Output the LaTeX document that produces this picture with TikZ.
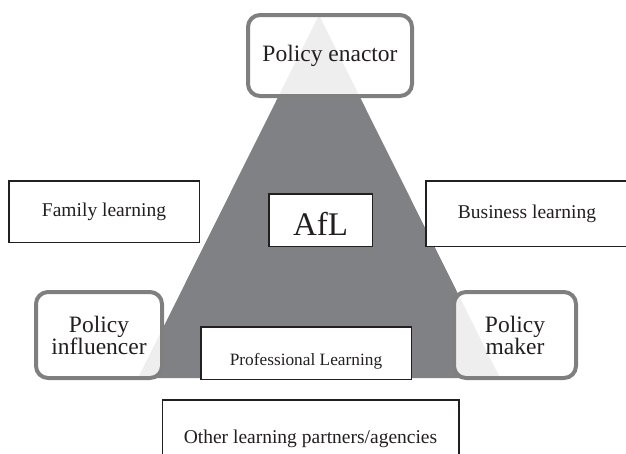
\documentclass[tikz,border=0pt]{standalone}
\usepackage{fontspec}
\setmainfont{Liberation Serif}
\definecolor{tri}{HTML}{808184}
\definecolor{rim}{HTML}{7F7F7F}
\definecolor{ink}{HTML}{231F20}

\begin{document}
\begin{tikzpicture}[
    x=1pt,y=-1pt,
    role/.style={rectangle,rounded corners=12pt,draw=rim,line width=4pt,fill=white,fill opacity=0.87,text opacity=1,text=ink,inner sep=0pt,align=center,font=\fontsize{23.5}{22}\selectfont},
    area/.style={rectangle,draw=ink,line width=1.5pt,fill=white,text=ink,inner sep=0pt,font=\fontsize{19.5}{22}\selectfont},
]
    \useasboundingbox (0,0) rectangle (626,453);
    \coordinate (top) at (319,15);
    \coordinate (left) at (138,378);
    \coordinate (right) at (500,378);
    \fill[tri] (top) -- (right) -- (left) -- cycle;

    \node[area,minimum width=190.5pt,minimum height=61.5pt] (family) at (104,211.5) {Family learning};
    \node[area,minimum width=202pt,minimum height=65.5pt] (business) at (527,213.5) {Business learning};
    \node[area,minimum width=103.5pt,minimum height=52.5pt,text height=30pt,text depth=0pt,font=\fontsize{33}{36}\selectfont] (afl) at (320.5,220) {AfL};
    \node[area,minimum width=210.5pt,minimum height=52.5pt,text height=25pt,text depth=0pt,font=\fontsize{17.3}{20}\selectfont] (prof) at (306,353) {Professional Learning};
    \node[area,minimum width=296.5pt,minimum height=78.5pt] (other) at (310.5,439) {Other learning partners/agencies};

    \node[role,minimum width=164pt,minimum height=81pt] (enactor) at (330,55.5) {Policy enactor};
    \node[role,minimum width=126pt,minimum height=86pt] (influencer) at (99,335) {Policy\\influencer};
    \node[role,minimum width=122pt,minimum height=86pt] (maker) at (515,335) {Policy\\maker};
\end{tikzpicture}
\end{document}
